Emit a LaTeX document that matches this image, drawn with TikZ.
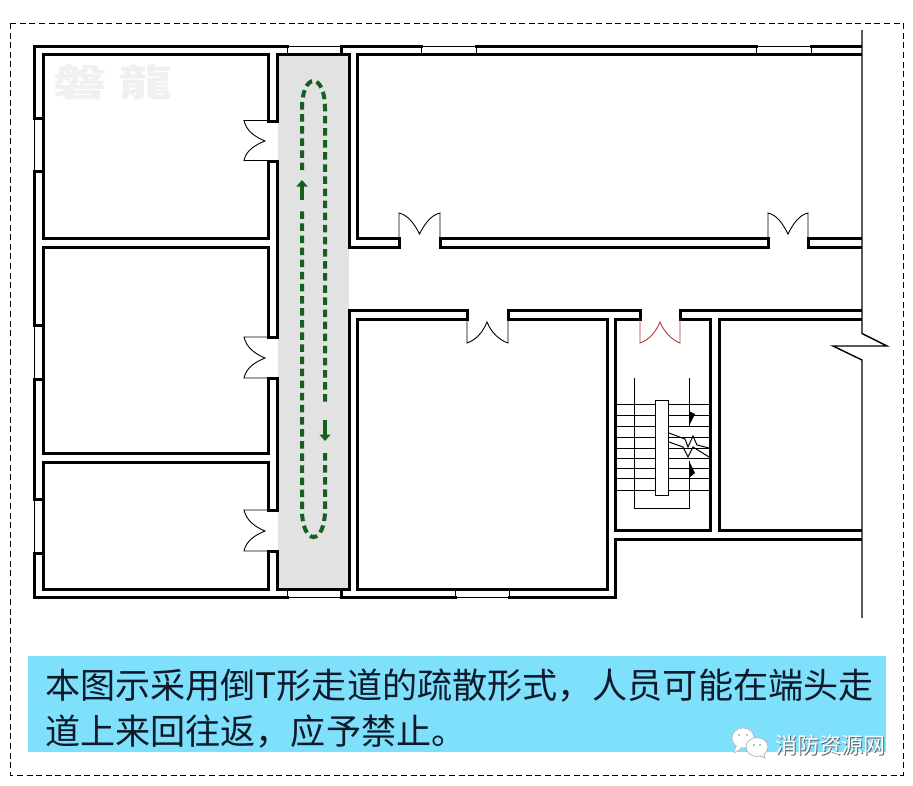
\documentclass[tikz,border=0pt]{standalone}
\usepackage{fontspec}
\newfontfamily\cjk{Noto Sans CJK SC}
\newfontfamily\cjktc{Noto Sans CJK TC}
\definecolor{corr}{HTML}{E2E2E2}
\definecolor{barblue}{HTML}{7FE0FB}
\definecolor{pathgreen}{HTML}{16601F}
\definecolor{reddoor}{HTML}{B8383C}
\definecolor{captext}{HTML}{0E1A2A}
\definecolor{faint}{HTML}{F0F0F0}
\tikzset{
  wall/.style={draw=black,line width=3pt,line cap=rect,line join=miter},
  thinline/.style={draw=black,line width=1pt},
  doorline/.style={draw=black,line width=0.9pt},
  reddoorline/.style={draw=reddoor,line width=0.9pt},
  stair/.style={draw=black,line width=1pt},
  outerline/.style={draw=black,line width=1.4pt},
  evac/.style={draw=pathgreen,line width=4pt,dash pattern=on 7.5pt off 4.6pt},
  evacarrow/.style={draw=pathgreen,line width=4pt,-{Triangle[length=6.5pt,width=11pt]}},
  frameline/.style={draw=black,line width=0.8pt,dash pattern=on 6pt off 3.6pt},
  caption/.style={anchor=base west,inner sep=0pt,text=captext,font=\cjk\fontsize{35.1}{40}\selectfont},
}
\usetikzlibrary{arrows.meta}
\begin{document}
\begin{tikzpicture}[x=1pt,y=-1pt]
\path[use as bounding box,fill=white] (0,0) rectangle (913,785);
% frame
\draw[frameline] (10.5,23) rectangle (903,775);
% faint watermark
\node[inner sep=0pt,xscale=1.44,text=faint,font=\cjktc\bfseries\fontsize{37}{40}\selectfont] (wm) at (113.5,82) {磐\hspace{9pt}龍};
% corridor
\fill[corr] (277.5,54) rectangle (349,589);
% left rooms
\draw[wall] (287,46) -- (34,46) -- (34,118) -- (43,118);
\draw[wall] (43,171) -- (34,171) -- (34,325) -- (43,325);
\draw[wall] (43,379) -- (34,379) -- (34,499) -- (43,499);
\draw[wall] (43,553) -- (34,553) -- (34,597) -- (287,597);
\draw[thinline] (34,118) -- (34,171) (34,325) -- (34,379) (34,499) -- (34,553);
\draw[wall] (268,121) -- (268,54) -- (43,54) -- (43,238) -- (268,238) -- (268,161);
\draw[wall] (268,337) -- (268,247) -- (43,247) -- (43,453) -- (268,453) -- (268,378);
\draw[wall] (268,510) -- (268,462) -- (43,462) -- (43,589) -- (268,589) -- (268,551);
% corridor walls
\draw[wall] (268,121) -- (277.5,121) -- (277.5,54) -- (349,54) -- (349,247) -- (399,247) -- (399,238) -- (357,238) -- (357,54) -- (860.5,54);
\draw[wall] (268,161) -- (277.5,161) -- (277.5,337) -- (268,337);
\draw[wall] (268,378) -- (277.5,378) -- (277.5,510) -- (268,510);
\draw[wall] (268,551) -- (277.5,551) -- (277.5,589) -- (349,589) -- (349,310) -- (467,310) -- (467,319) -- (357,319) -- (357,589) -- (607,589) -- (607,319) -- (508,319) -- (508,310) -- (640,310) -- (640,319) -- (615,319) -- (615,530) -- (710,530) -- (710,319) -- (680,319) -- (680,310) -- (860.5,310);
\draw[wall] (860.5,319) -- (719,319) -- (719,530) -- (860.5,530);
% upper right outer walls
\draw[wall] (341,54) -- (341,46) -- (421,46);
\draw[wall] (476,46) -- (756,46);
\draw[wall] (811,46) -- (860.5,46);
\draw[wall] (440,238) -- (440,247) -- (768,247) -- (768,238) -- (440,238);
\draw[wall] (860.5,238) -- (808,238) -- (808,247) -- (860.5,247);
% lower outer walls
\draw[wall] (341,589) -- (341,597) -- (455,597);
\draw[wall] (509,597) -- (615,597) -- (615,539) -- (860.5,539);
% windows
\draw[thinline] (287,46) -- (341,46) (287,46) -- (287,54);
\draw[thinline] (421,46) -- (476,46) (421,46) -- (421,54) (476,46) -- (476,54);
\draw[thinline] (756,46) -- (811,46) (756,46) -- (756,54) (811,46) -- (811,54);
\draw[thinline] (287,597) -- (341,597) (287,589) -- (287,597);
\draw[thinline] (455,597) -- (509,597) (455,589) -- (455,597) (509,589) -- (509,597);
% doors on the corridor
\foreach \t/\m/\b in {120.5/141/160.5,337/358/378,510/531/551}{
  \draw[doorline] (277,\t) -- (244,\t) .. controls (246,\t+10) and (255,\m-4) .. (265,\m)
     .. controls (255,\m+4) and (246,\b-10) .. (244,\b) -- (277,\b);
}
% doors in upper walls
\foreach \l/\r/\m in {399/440/419.5,768/808/788}{
  \draw[doorline] (\l,238) -- (\l,213) .. controls (\l+9,215) and (\m-5,224) .. (\m,234)
     .. controls (\m+5,224) and (\r-9,215) .. (\r,213) -- (\r,238);
}
\draw[doorline] (467,319) -- (467,343) .. controls (476,340) and (483,332) .. (487,322)
     .. controls (491,332) and (499,340) .. (508,343) -- (508,319);
\draw[reddoorline] (640,319) -- (640,343) .. controls (649,340) and (656,332) .. (660,322)
     .. controls (664,332) and (672,340) .. (680,343) -- (680,319);
% right hand line
\draw[outerline] (862,30) -- (862,333.5) -- (887,346) -- (833,346) -- (862,360) -- (862,618);
% stairs
\foreach \y in {404,415,426,437,448,458,468,478,490}{
  \draw[stair] (615,\y) -- (710,\y);
}
\draw[stair] (634,378) -- (634,508) -- (689,508) -- (689,461);
\draw[stair] (689,378) -- (689,426);
\draw[stair,fill=white] (655,400) rectangle (668,495);
\draw[stair] (669,433) -- (685,439) -- (688,447) -- (693,436) -- (697,445) -- (709,448);
\draw[stair] (669,442) -- (683,447) -- (688,457) -- (693,447) -- (709,457);
\fill[black] (689,411) -- (695,414) -- (689,426) -- cycle;
\fill[black] (689,461) -- (695,473) -- (689,478) -- cycle;
% evacuation route
\draw[evac] (302,170) -- (302,108) .. controls (302,92) and (307,81) .. (313.5,81) .. controls (320,81) and (325,92) .. (325,108) -- (325,406);
\draw[evac] (325,453) -- (325,510) .. controls (325,526) and (320,537) .. (313.5,537) .. controls (307,537) and (302,526) .. (302,510) -- (302,211);
\draw[evacarrow] (302,200) -- (302,180);
\draw[evacarrow] (325,420) -- (325,441);
% caption
\fill[barblue] (28,656) rectangle (886,752);
\node[caption] (line1) at (45,698) {本图示采用倒T形走道的疏散形式，人员可能在端头走};
\node[caption] (line2) at (45,744) {道上来回往返，应予禁止。};
% logo
\fill[white] (725,752) rectangle (886,760);
\draw[gray!60,fill=white,line width=0.5pt] (743,738) ellipse (11pt and 10pt);
\draw[gray!60,fill=white,line width=0.5pt] (736,746) -- (734,753) -- (742,748);
\draw[gray!70,fill=white,line width=0.6pt] (757,747) ellipse (11pt and 9.5pt);
\draw[gray!70,fill=white,line width=0.6pt] (760,756) -- (765,758) -- (764,754);
\fill[gray] (739,735) circle (0.8pt) (747,735) circle (0.8pt) (754,745) circle (0.8pt) (760,745) circle (0.8pt);
\node[inner sep=0pt,anchor=base west,text=gray!80!black,font=\cjk\fontsize{22}{24}\selectfont] (wxs) at (776,754.6) {消防资源网};
\node[inner sep=0pt,anchor=base west,text=white,font=\cjk\fontsize{22}{24}\selectfont] (wx) at (775,753.6) {消防资源网};
\end{tikzpicture}
\end{document}
